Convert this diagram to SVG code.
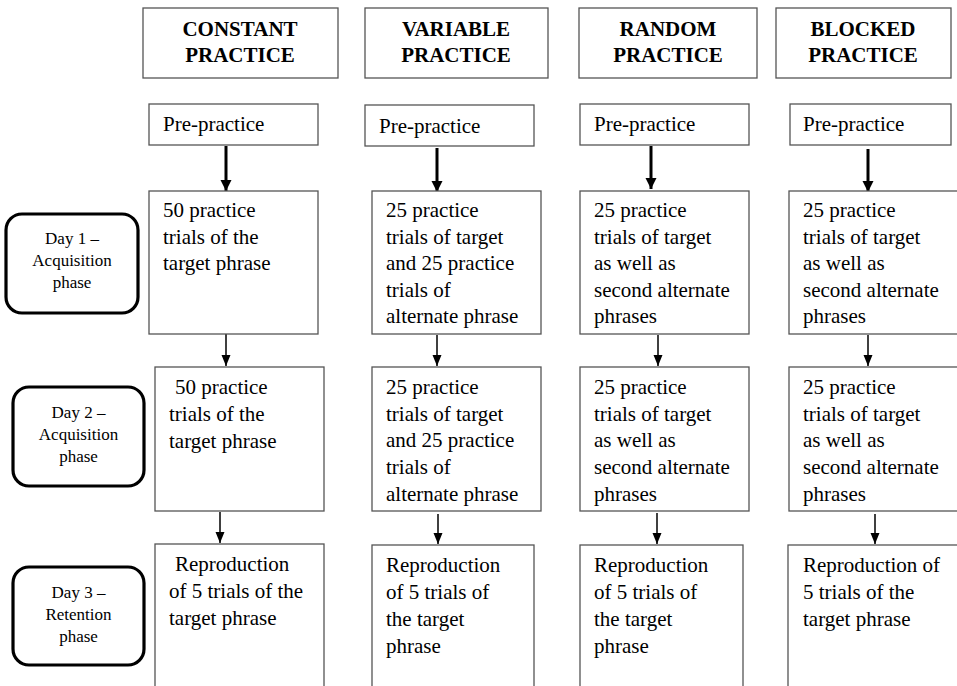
<svg xmlns="http://www.w3.org/2000/svg" width="957" height="686" viewBox="0 0 957 686" font-family="Liberation Serif, Times New Roman, serif">
<style>
.box{fill:#fff;stroke:#555;stroke-width:1.3}
.lbl{fill:#fff;stroke:#000;stroke-width:3.2}
.hd{font-weight:bold;font-size:21px;fill:#000;text-anchor:middle}
.body{font-size:21px;fill:#000}
.d{font-size:17px;fill:#000;text-anchor:middle}
.thick{stroke:#000;stroke-width:3;fill:none}
.thin{stroke:#000;stroke-width:1.5;fill:none}
</style>
<defs>
<marker id="ah" markerUnits="userSpaceOnUse" markerWidth="12" markerHeight="12" viewBox="0 0 12 12" refX="11" refY="6" orient="auto">
<path d="M0,0.5 L11,6 L0,11.5 Z" fill="#000"/>
</marker>
<marker id="ah2" markerUnits="userSpaceOnUse" markerWidth="12" markerHeight="12" viewBox="0 0 12 12" refX="11" refY="6" orient="auto">
<path d="M0,1.5 L11,6 L0,10.5 Z" fill="#000"/>
</marker>
</defs>
<rect width="957" height="686" fill="#fff"/>

<g id="connectors">
<line class="thick" x1="226" y1="146" x2="226" y2="191" marker-end="url(#ah)"/>
<line class="thick" x1="437" y1="148" x2="437" y2="192" marker-end="url(#ah)"/>
<line class="thick" x1="651" y1="146" x2="651" y2="189" marker-end="url(#ah)"/>
<line class="thick" x1="868" y1="149" x2="868" y2="192" marker-end="url(#ah)"/>
<line class="thin" x1="226" y1="334" x2="226" y2="366" marker-end="url(#ah2)"/>
<line class="thin" x1="437" y1="335" x2="437" y2="366" marker-end="url(#ah2)"/>
<line class="thin" x1="658" y1="335" x2="658" y2="366" marker-end="url(#ah2)"/>
<line class="thin" x1="868" y1="335" x2="868" y2="366" marker-end="url(#ah2)"/>
<line class="thin" x1="220" y1="512" x2="220" y2="543" marker-end="url(#ah2)"/>
<line class="thin" x1="438" y1="514" x2="438" y2="544" marker-end="url(#ah2)"/>
<line class="thin" x1="657" y1="513" x2="657" y2="544" marker-end="url(#ah2)"/>
<line class="thin" x1="875" y1="514" x2="875" y2="544" marker-end="url(#ah2)"/>
</g>

<g id="hdr-constant"><rect class="box" x="143" y="8" width="195" height="70"/><text class="hd" x="240" y="36">CONSTANT</text><text class="hd" x="240" y="62">PRACTICE</text></g>
<g id="hdr-variable"><rect class="box" x="365" y="8" width="183" height="70"/><text class="hd" x="456" y="36">VARIABLE</text><text class="hd" x="456" y="62">PRACTICE</text></g>
<g id="hdr-random"><rect class="box" x="579" y="8" width="178" height="70"/><text class="hd" x="668" y="36">RANDOM</text><text class="hd" x="668" y="62">PRACTICE</text></g>
<g id="hdr-blocked"><rect class="box" x="776" y="8" width="175" height="70"/><text class="hd" x="863" y="36">BLOCKED</text><text class="hd" x="863" y="62">PRACTICE</text></g>

<g id="pre-constant"><rect class="box" x="149" y="104" width="169" height="41"/><text class="body" x="163" y="131">Pre-practice</text></g>
<g id="pre-variable"><rect class="box" x="365" y="105" width="169" height="41"/><text class="body" x="379" y="133">Pre-practice</text></g>
<g id="pre-random"><rect class="box" x="580" y="104" width="169" height="41"/><text class="body" x="594" y="131">Pre-practice</text></g>
<g id="pre-blocked"><rect class="box" x="790" y="104" width="161" height="41"/><text class="body" x="803" y="131">Pre-practice</text></g>

<g id="day1-label"><rect class="lbl" x="6" y="214" width="132" height="99" rx="16"/><text class="d" x="72" y="244">Day 1 –</text><text class="d" x="72" y="266">Acquisition</text><text class="d" x="72" y="288">phase</text></g>
<g id="day2-label"><rect class="lbl" x="13" y="387" width="131" height="99" rx="16"/><text class="d" x="78.5" y="418">Day 2 –</text><text class="d" x="78.5" y="440">Acquisition</text><text class="d" x="78.5" y="462">phase</text></g>
<g id="day3-label"><rect class="lbl" x="13" y="567" width="131" height="98" rx="16"/><text class="d" x="78.5" y="598">Day 3 –</text><text class="d" x="78.5" y="620">Retention</text><text class="d" x="78.5" y="642">phase</text></g>

<g id="d1-constant"><rect class="box" x="149" y="191" width="169" height="143"/><text class="body" x="163" y="217">50 practice</text><text class="body" x="163" y="243.5">trials of the</text><text class="body" x="163" y="270">target phrase</text></g>
<g id="d1-variable"><rect class="box" x="372" y="191" width="169" height="143"/><text class="body" x="386" y="217">25 practice</text><text class="body" x="386" y="243.5">trials of target</text><text class="body" x="386" y="270">and 25 practice</text><text class="body" x="386" y="296.5">trials of</text><text class="body" x="386" y="323">alternate phrase</text></g>
<g id="d1-random"><rect class="box" x="580" y="191" width="169" height="143"/><text class="body" x="594" y="217">25 practice</text><text class="body" x="594" y="243.5">trials of target</text><text class="body" x="594" y="270">as well as</text><text class="body" x="594" y="296.5">second alternate</text><text class="body" x="594" y="323">phrases</text></g>
<g id="d1-blocked"><rect class="box" x="789" y="191" width="172" height="143"/><text class="body" x="803" y="217">25 practice</text><text class="body" x="803" y="243.5">trials of target</text><text class="body" x="803" y="270">as well as</text><text class="body" x="803" y="296.5">second alternate</text><text class="body" x="803" y="323">phrases</text></g>

<g id="d2-constant"><rect class="box" x="155" y="367" width="169" height="144"/><text class="body" x="175" y="394">50 practice</text><text class="body" x="169" y="421">trials of the</text><text class="body" x="169" y="448">target phrase</text></g>
<g id="d2-variable"><rect class="box" x="372" y="367" width="169" height="144"/><text class="body" x="386" y="394">25 practice</text><text class="body" x="386" y="420.7">trials of target</text><text class="body" x="386" y="447.4">and 25 practice</text><text class="body" x="386" y="474.1">trials of</text><text class="body" x="386" y="500.8">alternate phrase</text></g>
<g id="d2-random"><rect class="box" x="580" y="367" width="169" height="144"/><text class="body" x="594" y="394">25 practice</text><text class="body" x="594" y="420.7">trials of target</text><text class="body" x="594" y="447.4">as well as</text><text class="body" x="594" y="474.1">second alternate</text><text class="body" x="594" y="500.8">phrases</text></g>
<g id="d2-blocked"><rect class="box" x="789" y="367" width="172" height="144"/><text class="body" x="803" y="394">25 practice</text><text class="body" x="803" y="420.7">trials of target</text><text class="body" x="803" y="447.4">as well as</text><text class="body" x="803" y="474.1">second alternate</text><text class="body" x="803" y="500.8">phrases</text></g>

<g id="d3-constant"><rect class="box" x="155" y="544" width="169" height="160"/><text class="body" x="175" y="571">Reproduction</text><text class="body" x="169" y="598">of 5 trials of the</text><text class="body" x="169" y="625">target phrase</text></g>
<g id="d3-variable"><rect class="box" x="372" y="545" width="162" height="160"/><text class="body" x="386" y="572">Reproduction</text><text class="body" x="386" y="599">of 5 trials of</text><text class="body" x="386" y="626">the target</text><text class="body" x="386" y="653">phrase</text></g>
<g id="d3-random"><rect class="box" x="580" y="545" width="163" height="160"/><text class="body" x="594" y="572">Reproduction</text><text class="body" x="594" y="599">of 5 trials of</text><text class="body" x="594" y="626">the target</text><text class="body" x="594" y="653">phrase</text></g>
<g id="d3-blocked"><rect class="box" x="788" y="545" width="175" height="160"/><text class="body" x="803" y="572">Reproduction of</text><text class="body" x="803" y="599">5 trials of the</text><text class="body" x="803" y="626">target phrase</text></g>
</svg>
